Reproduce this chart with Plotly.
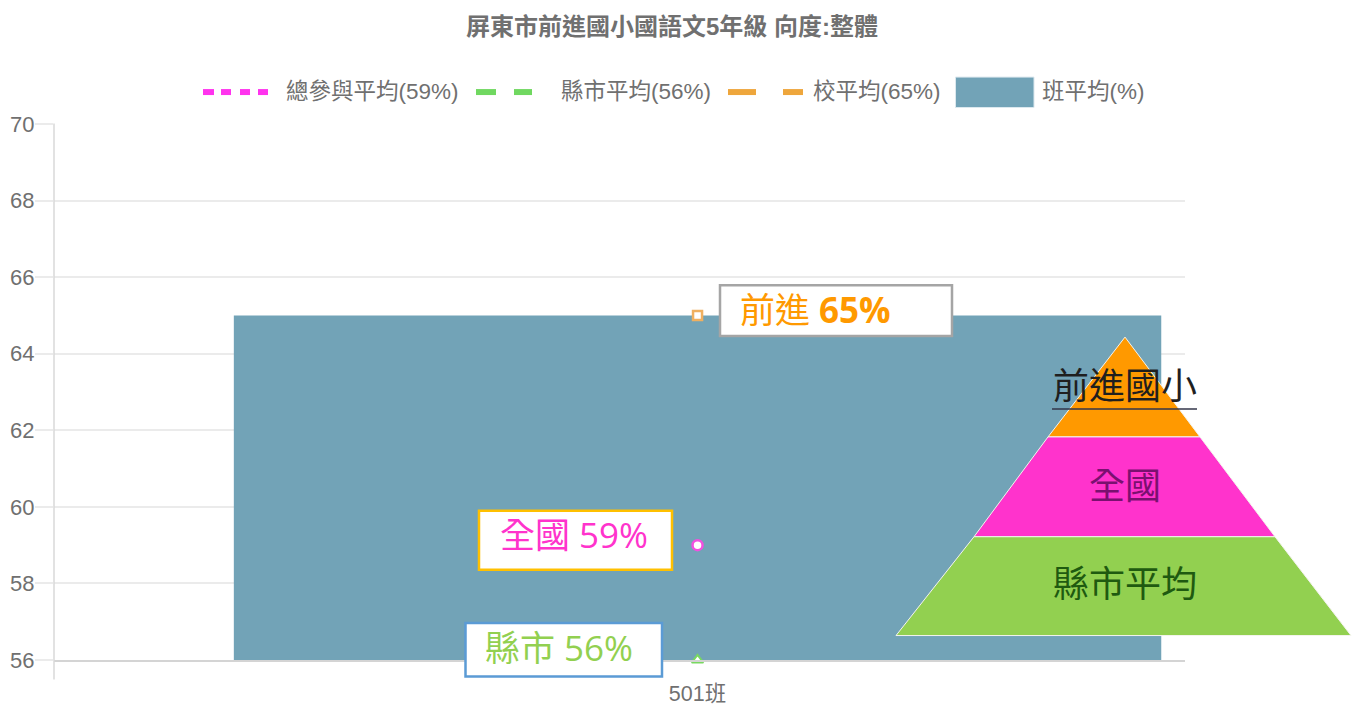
import plotly.graph_objects as go

categories = ["501班"]
class_avg = [65]
overall_avg = [59]
county_avg = [56]
school_avg = [65]
y_ticks = [56, 58, 60, 62, 64, 66, 68, 70]

C_BAR = "#72a3b7"
C_MAG = "#ff33cc"
C_GRN = "#92d050"
C_ORG = "#ff9900"
C_TXT = "#707070"
FONT = "'Liberation Sans', 'Noto Sans CJK TC', sans-serif"
CJK = "'Noto Sans CJK TC', sans-serif"
OPEN = "'Open Sans', 'Noto Sans CJK TC', sans-serif"

L, R, T, B = 54, 1185, 123.5, 660.5
W, H = 1360, 704


def px(x):
    return (x - L) / (R - L)


def py(y):
    return (B - y) / (B - T)


fig = go.Figure()
fig.add_trace(go.Bar(x=categories, y=class_avg, name="班平均(%)", marker=dict(color=C_BAR, line_width=0), width=0.82))
fig.add_trace(go.Scatter(x=categories, y=overall_avg, name="總參與平均(59%)", mode="markers", cliponaxis=False,
                         marker=dict(symbol="circle", size=10, color="white", line=dict(color="#f34fe0", width=2.5))))
fig.add_trace(go.Scatter(x=categories, y=county_avg, name="縣市平均(56%)", mode="markers", cliponaxis=False,
                         marker=dict(symbol="triangle-up", size=10, color="white", line=dict(color="#78d860", width=2))))
fig.add_trace(go.Scatter(x=categories, y=school_avg, name="校平均(65%)", mode="markers", cliponaxis=False,
                         marker=dict(symbol="square", size=9, color="white", line=dict(color="#f0b060", width=2.5))))

shapes = []


def rect(x0, y0, x1, y1, fill, line=None, lw=0, layer="above"):
    shapes.append(dict(type="rect", xref="paper", yref="paper", x0=px(x0), x1=px(x1), y0=py(y0), y1=py(y1),
                       fillcolor=fill, line=dict(color=line or fill, width=lw), layer=layer))


def poly(pts, fill):
    path = "M " + " L ".join(f"{px(a)} {py(b)}" for a, b in pts) + " Z"
    shapes.append(dict(type="path", xref="paper", yref="paper", path=path, fillcolor=fill,
                       line=dict(color="#f4f4ee", width=1), layer="above"))


# y axis line, extended below the plot, and legend keys
shapes.append(dict(type="line", xref="paper", yref="paper", x0=px(54), x1=px(54), y0=py(123), y1=py(680),
                   line=dict(color="#d9d9d9", width=1.5)))
for a, b in [(203, 214), (221, 231), (240, 250), (258, 268)]:
    rect(a, 88.5, b, 94.5, "#ff33ee")
for a, b in [(476, 496), (514, 532)]:
    rect(a, 88.5, b, 94.5, "#70d860")
for a, b in [(728, 756), (783, 803)]:
    rect(a, 88.5, b, 94.5, "#eea63c")
rect(955.5, 76.5, 1034, 107, C_BAR, "#dce8ee", 1)

# value call-outs
rect(720, 285, 952, 336, "white", "#a5a5a5", 2.5)
rect(479, 511, 672, 570, "white", "#ffc000", 2.5)
rect(465.5, 623.5, 662, 677, "white", "#5b9bd5", 2.5)

# pyramid
poly([(1125, 337), (1200, 437), (1048, 437)], C_ORG)
poly([(1048, 437), (1200, 437), (1275, 537), (974, 537)], C_MAG)
poly([(974, 537), (1275, 537), (1351, 636), (896, 636)], C_GRN)
shapes.append(dict(type="line", xref="paper", yref="paper", x0=px(1052), x1=px(1197), y0=py(409), y1=py(409),
                   line=dict(color="#33364a", width=1.5)))

annotations = []


def text(x, y, s, size, color, family=FONT, anchor="left"):
    annotations.append(dict(xref="paper", yref="paper", x=px(x), y=py(y), text=s, showarrow=False, xanchor=anchor,
                            yanchor="middle", align="left", xshift=0, borderpad=0,
                            font=dict(size=size, color=color, family=family)))


text(672, 26, "<b>屏東市前進國小國語文5年級 向度:整體</b>", 24, C_TXT, anchor="center")
text(285, 91, "總參與平均(59%)", 22.5, C_TXT)
text(560, 91, "縣市平均(56%)", 22.5, C_TXT)
text(812, 91, "校平均(65%)", 22.5, C_TXT)
text(1041, 91, "班平均(%)", 22.5, C_TXT)
text(739, 309, "前進 <b>65%</b>", 35, C_ORG, OPEN)
text(499, 535, "全國 59%", 35, C_MAG, OPEN)
text(484, 648, "縣市 56%", 35, C_GRN, OPEN)
text(1124.5, 383, "前進國小", 36, "#1f1f1f", CJK, "center")
text(1124.5, 483, "全國", 36, "#7a1070", CJK, "center")
text(1124.5, 581, "縣市平均", 36, "#1f5a10", CJK, "center")

fig.update_layout(
    width=W, height=H, autosize=False, showlegend=False,
    margin=dict(l=L, r=W - R, t=T, b=H - B, pad=0),
    paper_bgcolor="white", plot_bgcolor="white",
    font=dict(family=FONT, color=C_TXT, size=22),
    shapes=shapes, annotations=annotations,
)
fig.update_xaxes(type="category", automargin=False, showgrid=False, showline=True, linecolor="#d4d4d4", linewidth=1.5,
                 ticks="", ticklabelstandoff=13, tickfont=dict(size=21.5, color=C_TXT),
                 range=[-0.569, 0.431], fixedrange=True)
fig.update_yaxes(automargin=False, range=[56, 70], tickvals=y_ticks, showgrid=True, gridcolor="#ebebeb", gridwidth=1.5,
                 zeroline=False, showline=False, ticks="outside", ticklen=18, tickcolor="#ebebeb", tickwidth=1.5,
                 ticklabelstandoff=-4, tickfont=dict(size=22, color=C_TXT), fixedrange=True)

fig.write_html("out.html", config={"displayModeBar": False},
               post_script="document.body.style.margin='0';document.body.style.overflow='hidden';")
